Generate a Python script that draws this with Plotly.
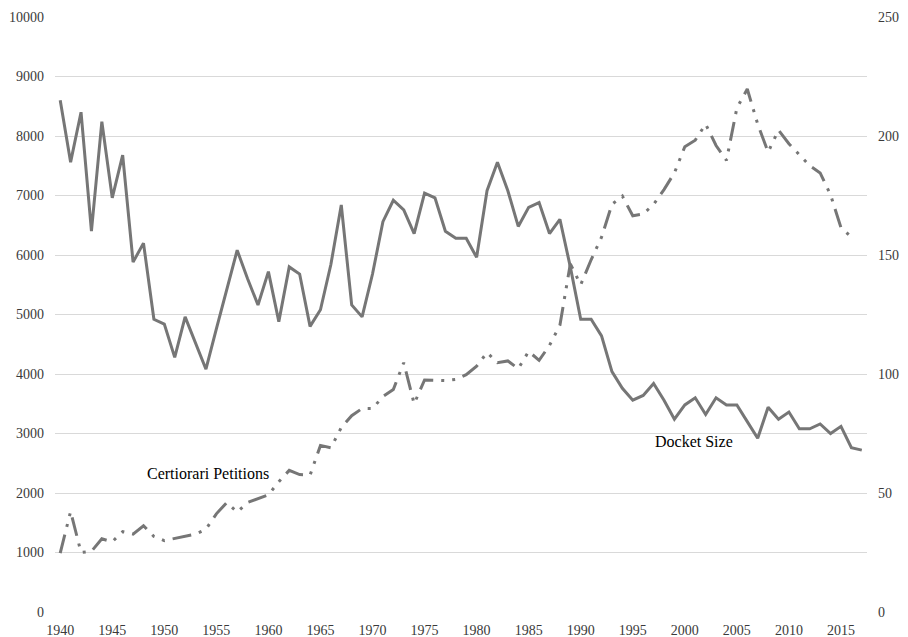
import plotly.graph_objects as go

years = list(range(1940, 2018))

# Certiorari petitions (left axis), 1940-2016
petitions = [990, 1690, 1000, 1020, 1230, 1180, 1350, 1310, 1450, 1270,
             1200, 1240, 1280, 1310, 1390, 1650, 1840, 1680, 1840, 1900,
             1970, 2190, 2380, 2310, 2300, 2800, 2760, 3100, 3300, 3420,
             3420, 3620, 3740, 4190, 3500, 3900, 3890, 3890, 3910, 3990,
             4130, 4360, 4190, 4220, 4090, 4380, 4230, 4480, 4820, 5850,
             5500, 5920, 6300, 6850, 6990, 6660, 6690, 6850, 7100, 7380,
             7820, 7930, 8200, 7840, 7590, 8470, 8790, 8200, 7730, 8100,
             7870, 7690, 7500, 7380, 7010, 6460, 6300, None]

# Docket size (right axis), 1940-2017
docket = [215, 189, 210, 160, 206, 174, 192, 147, 155, 123,
          121, 107, 124, 113, 102, 119, 135, 152, 140, 129,
          143, 122, 145, 142, 120, 127, 146, 171, 129, 124,
          142, 164, 173, 169, 159, 176, 174, 160, 157, 157,
          149, 177, 189, 177, 162, 170, 172, 159, 165, 145,
          123, 123, 116, 101, 94, 89, 91, 96, 89, 81,
          87, 90, 83, 90, 87, 87, 80, 73, 86, 81,
          84, 77, 77, 79, 75, 78, 69, 68]

x_ticks = list(range(1940, 2016, 5))
left_ticks = list(range(0, 10001, 1000))
right_ticks = list(range(0, 251, 50))

LINE = "#767676"
FONT = "'Liberation Serif', 'Times New Roman', serif"

fig = go.Figure()
fig.add_trace(go.Scatter(
    x=years, y=petitions, mode="lines", name="Certiorari Petitions",
    line=dict(color=LINE, width=3, dash="19px,8px,3px,8px,3px,8px"),
    connectgaps=False, yaxis="y"))
fig.add_trace(go.Scatter(
    x=years, y=docket, mode="lines", name="Docket Size",
    line=dict(color=LINE, width=3), yaxis="y2"))

fig.add_annotation(x=1954.2, y=2320, xref="x", yref="y", text="Certiorari Petitions",
                   showarrow=False, font=dict(family=FONT, size=16, color="#000000"))
fig.add_annotation(x=2000.9, y=2874, xref="x", yref="y", text="Docket Size",
                   showarrow=False, font=dict(family=FONT, size=16, color="#000000"))

fig.update_layout(
    width=908, height=637,
    margin=dict(l=55, r=41, t=17, b=25),
    paper_bgcolor="white", plot_bgcolor="white",
    showlegend=False,
    font=dict(family=FONT, size=14, color="#3a3a3a"),
    xaxis=dict(range=[1939.5, 2017.5], tickvals=x_ticks, showgrid=False,
               zeroline=False, showline=False, ticks="", ticklabelstandoff=8,
               automargin=False),
    yaxis=dict(range=[0, 10000], tickvals=left_ticks,
               ticktext=[str(v) for v in left_ticks], showgrid=True,
               gridcolor="#d9d9d9", gridwidth=1, zeroline=False, showline=False,
               ticks="", ticklabelstandoff=10, automargin=False),
    yaxis2=dict(range=[0, 250], tickvals=right_ticks,
                ticktext=[str(v) for v in right_ticks], overlaying="y", side="right",
                showgrid=False, zeroline=False, showline=False, ticks="",
                ticklabelstandoff=10, automargin=False),
)

fig.write_html("out.html", config={"displayModeBar": False},
               post_script="document.body.style.margin='0';document.body.style.padding='0';document.body.style.overflow='hidden';")
